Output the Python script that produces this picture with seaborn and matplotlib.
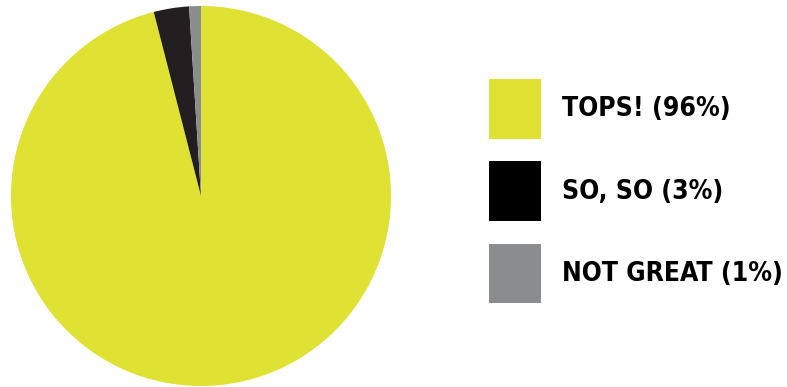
import matplotlib
matplotlib.use('Agg')
import matplotlib.pyplot as plt
import seaborn as sns
from matplotlib.patches import Patch

# survey answers
labels = ['TOPS! (96%)', 'SO, SO (3%)', 'NOT GREAT (1%)']
values = [96, 3, 1]
slice_colors = ['#DFE133', '#231F20', '#8B8C8E']
legend_colors = ['#DFE133', '#000000', '#8B8C8E']

sns.set_theme(style='white')
plt.rcParams['font.family'] = ['DejaVu Sans']

fig = plt.figure(figsize=(7.87, 3.87), dpi=100)
ax = fig.add_axes([11 / 787, 1 / 387, 380 / 787, 380 / 387])
ax.pie(values, colors=slice_colors, startangle=90, counterclock=False,
       radius=1, wedgeprops={'linewidth': 0})
ax.set_xlim(-1, 1)
ax.set_ylim(-1, 1)
ax.set_aspect('equal')

# legend with big square swatches
handles = [Patch(facecolor=c, edgecolor='none') for c in legend_colors]
fs = 19
fig.legend(handles, labels, loc='upper left', bbox_to_anchor=(489 / 787, 1 - 79 / 387),
           frameon=False, labelcolor='black',
           prop={'weight': 'bold', 'size': fs, 'stretch': 'condensed'},
           handlelength=1.97, handleheight=3.1, handletextpad=0.8,
           labelspacing=0.86, borderpad=0, borderaxespad=0)

fig.savefig('out.png', dpi=100, facecolor='white')
